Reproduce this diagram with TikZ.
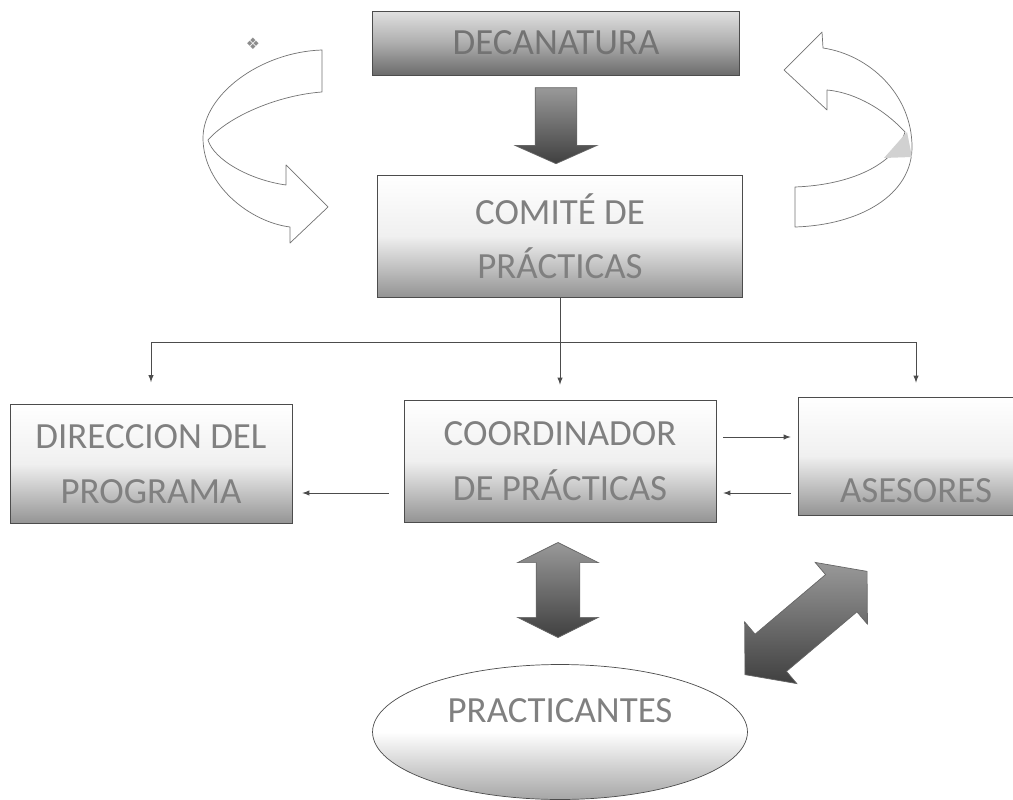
\documentclass[tikz,border=0pt]{standalone}
\usepackage{fontspec}
\setmainfont{Carlito}
\newfontfamily\symfont{DejaVu Sans}
\usetikzlibrary{shapes.geometric,shapes.arrows,calc}
\tikzset{
  box/.style={draw=black!70,rectangle,align=center,text=black!50,inner sep=0pt,
    top color=white,bottom color=black!42,middle color=black!6,
    font=\fontsize{21}{31}\selectfont},
  bigarrow/.style={draw=black!60,inner xsep=0pt,top color=black!40,bottom color=black!75},
  link/.style={black!70,-latex},
  ribbon/.style={draw=black!55,fill=white,line join=round},
}
\begin{document}
\begin{tikzpicture}[x=0.02cm,y=-0.02cm]
  \useasboundingbox (0,0) rectangle (1013,800);
  %% boxes
  \node[box,minimum width=7.34cm,minimum height=1.28cm,top color=black!12,bottom color=black!58,
    middle color=black!32,text=black!55] (deca) at (556,43) {DECANATURA};
  \node[box,minimum width=7.3cm,minimum height=2.44cm] (comite) at (560,236) {COMITÉ DE\\PRÁCTICAS};
  \node[box,minimum width=5.64cm,minimum height=2.38cm] (direccion) at (151,464) {DIRECCION DEL\\PROGRAMA};
  \node[box,minimum width=6.24cm,minimum height=2.44cm] (coord) at (560,461) {COORDINADOR\\DE PRÁCTICAS};
  \node[box,minimum width=4.72cm,minimum height=2.36cm] (asesores) at (916,456) {\strut\\ASESORES};
  \node[box,ellipse,minimum width=7.5cm,minimum height=2.7cm,bottom color=black!35,middle color=white,
    text depth=0.85cm] (practicantes) at (560,732) {PRACTICANTES};
  %% thick arrows
  \node[bigarrow,single arrow,rotate=-90,anchor=tail,minimum height=1.52cm,inner ysep=0.41cm,
    single arrow head extend=0.4cm,single arrow tip angle=132] (down) at ([yshift=-0.24cm]deca.south) {};
  \node[bigarrow,double arrow,rotate=90,minimum height=1.9cm,inner ysep=0.43cm,
    double arrow head extend=0.37cm,double arrow tip angle=127] (updown) at (558,590) {};
  \node[bigarrow,double arrow,rotate=40.2,minimum height=3.2cm,inner ysep=0.48cm,
    double arrow head extend=0.32cm,double arrow tip angle=100] (diag) at (806,623) {};
  %% links
  \coordinate (bus) at ([yshift=-0.9cm]comite.south);
  \draw[link,shorten >=0.3cm] (comite.south) -- (coord.north);
  \draw[black!70] (bus -| direccion.north) -- (bus -| asesores.north);
  \foreach \n/\s in {direccion/0.44cm,asesores/0.28cm}
    \draw[link,shorten >=\s] (bus -| \n.north) -- (\n.north);
  \draw[link,shorten <=0.14cm,shorten >=0.14cm] ([yshift=0.48cm]coord.east) -- ([yshift=0.48cm]coord.east -| asesores.west);
  \draw[link,shorten <=0.14cm,shorten >=0.14cm] ([yshift=-0.74cm]asesores.west) -- ([yshift=-0.74cm]asesores.west -| coord.east);
  \draw[link,shorten <=0.3cm,shorten >=0.2cm] ([yshift=-0.64cm]coord.west) -- ([yshift=-0.64cm]coord.west -| direccion.east);
  %% curved arrows
  \draw[ribbon] (322,50) .. controls (260,52) and (203,95) .. (203,138)
    .. controls (203,185) and (250,222) .. (290,227) -- (290,243) -- (328,207) -- (286,165) -- (286,185)
    .. controls (250,180) and (214,160) .. (208,140) .. controls (230,115) and (280,95) .. (322,92) -- cycle;
  \draw[ribbon] (784,70) -- (822,32) -- (823,48) .. controls (870,55) and (912,95) .. (912,147)
    .. controls (912,195) and (860,225) .. (795,227) -- (795,187)
    .. controls (850,185) and (895,165) .. (905,132) .. controls (880,105) and (850,92) .. (827,90) -- (827,110) -- cycle;
  \fill[black!18] (907,132) -- (912,157) -- (884,158) -- cycle;
  \node[text=black!45,font=\symfont\fontsize{9}{9}\selectfont] (mark) at (253,44) {❖};
\end{tikzpicture}
\end{document}
